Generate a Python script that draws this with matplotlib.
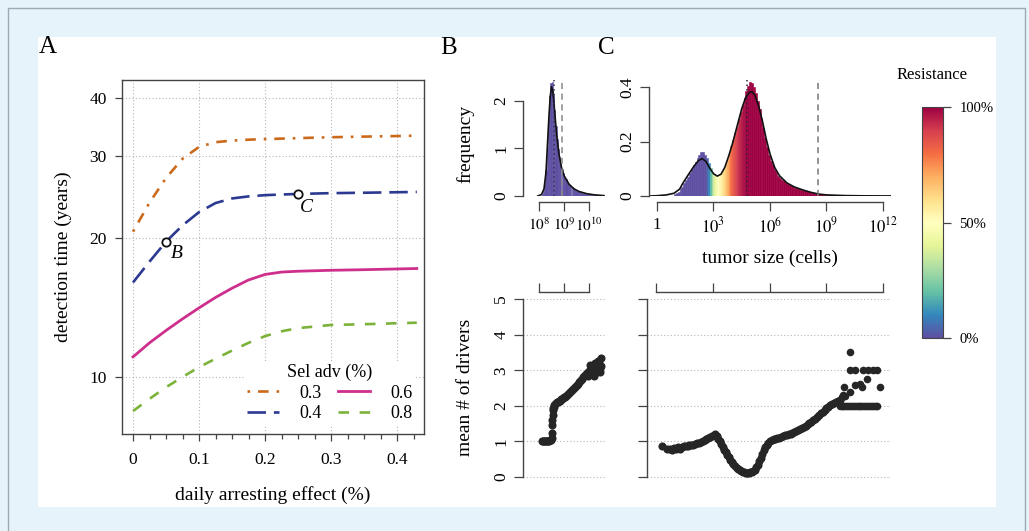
import numpy as np
import matplotlib
matplotlib.use('Agg')
import matplotlib.pyplot as plt
from matplotlib.patches import Rectangle
from matplotlib.colors import Normalize
import matplotlib.ticker as mticker

plt.rcParams['font.family'] = ['Liberation Serif', 'DejaVu Serif']
plt.rcParams['mathtext.fontset'] = 'stix'

# ---------------- data ----------------
# Panel A: detection time (years) vs daily arresting effect (%)
arrest = [0, 0.025, 0.05, 0.075, 0.1, 0.125, 0.15, 0.175, 0.2, 0.225, 0.25, 0.3, 0.35, 0.43]
det_03 = [20.6, 23.8, 26.9, 29.6, 31.4, 32.15, 32.4, 32.55, 32.65, 32.72, 32.8, 32.95, 33.05, 33.2]
det_04 = [16.0, 17.75, 19.6, 21.25, 22.7, 23.75, 24.3, 24.55, 24.7, 24.78, 24.85, 24.95, 25.0, 25.1]
det_06 = [11.05, 11.85, 12.6, 13.35, 14.1, 14.85, 15.55, 16.2, 16.65, 16.85, 16.92, 17.0, 17.05, 17.15]
det_08 = [8.44, 8.97, 9.5, 10.0, 10.5, 10.95, 11.4, 11.85, 12.25, 12.55, 12.75, 12.95, 13.0, 13.1]
sel_labels = ['0.3', '0.4', '0.6', '0.8']
point_B = (0.05, 19.6)
point_C = (0.25, 24.85)

# Panel B (top): histogram of log10 tumor size at detection
b_bins = [8.10, 8.15, 8.20, 8.25, 8.30, 8.35, 8.40, 8.45, 8.50, 8.55,
          8.60, 8.65, 8.70, 8.75, 8.80, 8.85, 8.90, 8.95, 9.00, 9.05,
          9.10, 9.15, 9.20, 9.25, 9.30, 9.35, 9.40, 9.45, 9.50, 9.55,
          9.60, 9.65, 9.70, 9.75, 9.80, 9.85, 9.90, 9.95, 10.00, 10.05,
          10.10, 10.15, 10.20, 10.25, 10.30, 10.35, 10.40, 10.45, 10.50, 10.55]
b_hist = [0.04, 0.10, 0.25, 0.55, 1.00, 1.60, 2.10, 2.38, 2.40, 2.15,
          1.80, 1.48, 1.20, 0.98, 0.82, 0.68, 0.57, 0.48, 0.41, 0.35,
          0.30, 0.26, 0.23, 0.20, 0.18, 0.16, 0.14, 0.125, 0.11, 0.10,
          0.09, 0.08, 0.07, 0.063, 0.056, 0.05, 0.045, 0.04, 0.035, 0.031,
          0.028, 0.025, 0.022, 0.02, 0.018, 0.016, 0.014, 0.012, 0.01, 0.008]
b_dens_x = [7.95, 8.1, 8.2, 8.28, 8.34, 8.4, 8.45, 8.5, 8.55, 8.6, 8.7, 8.8, 8.9, 9.0,
            9.2, 9.4, 9.6, 9.9, 10.2, 10.6]
b_dens_y = [0.0, 0.03, 0.15, 0.5, 1.1, 1.7, 2.1, 2.3, 2.22, 1.95, 1.32, 0.88, 0.6, 0.43,
            0.25, 0.15, 0.095, 0.05, 0.025, 0.008]
b_vline_dot = 8.61
b_vline_dash = 8.93

# Panel C (top): histogram of log10 tumor size, coloured by resistance
c_bin_width = 0.1
c_bins = list(np.round(np.arange(0.9, 10.95, 0.1), 2))
c_hist = [0.006, 0.010, 0.016, 0.024, 0.034, 0.046, 0.058, 0.070, 0.084, 0.098,
          0.112, 0.125, 0.138, 0.150, 0.160, 0.162, 0.152, 0.138, 0.120, 0.102, 0.088,
          0.078, 0.073, 0.074, 0.079, 0.088, 0.100, 0.116, 0.136, 0.158, 0.182,
          0.206, 0.230, 0.255, 0.282, 0.308, 0.334, 0.360, 0.385, 0.402, 0.418,
          0.415, 0.400, 0.378, 0.350, 0.318, 0.285, 0.248, 0.212, 0.180, 0.152,
          0.130, 0.112, 0.097, 0.085, 0.075, 0.067, 0.060, 0.054, 0.049, 0.045,
          0.041, 0.037, 0.034, 0.031, 0.028, 0.025, 0.023, 0.021, 0.019, 0.017,
          0.015, 0.013, 0.012, 0.010, 0.009, 0.008, 0.007, 0.006, 0.0055, 0.005,
          0.0045, 0.004, 0.0036, 0.0032, 0.0029, 0.0026, 0.0023, 0.0021, 0.0019, 0.0017,
          0.0015, 0.0013, 0.0012, 0.0011, 0.0010, 0.0009, 0.0008, 0.0007, 0.0006, 0.0005]
c_resist = ([0.0] * 17 +
            [0.03, 0.10, 0.20, 0.30, 0.38, 0.44, 0.49, 0.53, 0.57, 0.61, 0.66,
             0.71, 0.76, 0.80, 0.84, 0.87, 0.90, 0.93, 0.95, 0.97, 0.99] +
            [1.0] * 63)
c_dens_x = [-0.4, 0.0, 0.5, 0.9, 1.2, 1.4, 1.7, 1.95, 2.2, 2.4, 2.6, 2.8, 3.0, 3.2, 3.4,
            3.6, 3.8, 4.0, 4.25, 4.5, 4.7, 4.9, 5.05, 5.2, 5.4, 5.6, 5.8, 6.0, 6.25,
            6.5, 6.9, 7.3, 7.8, 8.2, 8.6, 9.0, 10.0, 11.0, 12.4]
c_dens_y = [0.0, 0.001, 0.004, 0.01, 0.025, 0.05, 0.082, 0.108, 0.13, 0.137, 0.127,
            0.102, 0.082, 0.073, 0.08, 0.105, 0.145, 0.19, 0.255, 0.32, 0.36, 0.38,
            0.383, 0.37, 0.33, 0.275, 0.21, 0.155, 0.105, 0.075, 0.048, 0.033, 0.021,
            0.013, 0.007, 0.004, 0.0015, 0.0006, 0.0002]
c_vline_dot = 4.78
c_vline_dash = 8.55

# Panel B (bottom): mean number of drivers vs log10 size
bd_x = [8.12, 8.16, 8.20, 8.24, 8.28, 8.32, 8.36, 8.40, 8.44, 8.48, 8.51, 8.52, 8.53,
        8.535, 8.54, 8.55, 8.56, 8.58, 8.60, 8.64, 8.68, 8.72, 8.76, 8.80, 8.84, 8.88,
        8.92, 8.96, 9.00, 9.04, 9.08, 9.12, 9.16, 9.20, 9.24, 9.28, 9.32, 9.36, 9.40,
        9.44, 9.48, 9.52, 9.56, 9.60, 9.64, 9.68, 9.72, 9.76, 9.80, 9.84, 9.88, 9.92,
        9.96, 10.00, 10.04, 10.08, 10.12, 10.16, 10.20, 10.24, 10.28, 10.32, 10.36,
        10.40, 10.44, 10.48, 10.05, 10.15, 10.25, 10.35, 10.45, 10.48, 10.20, 10.30,
        10.40, 9.95, 10.10]
bd_y = [1.0, 1.0, 1.0, 1.0, 1.0, 1.0, 1.02, 1.0, 1.03, 1.05, 1.1, 1.25, 1.45,
        1.6, 1.75, 1.88, 1.95, 1.98, 2.02, 2.06, 2.08, 2.1, 2.12, 2.14, 2.15, 2.18,
        2.2, 2.22, 2.24, 2.26, 2.28, 2.3, 2.33, 2.36, 2.39, 2.42, 2.45, 2.47, 2.5,
        2.53, 2.56, 2.59, 2.62, 2.66, 2.7, 2.73, 2.76, 2.8, 2.83, 2.87, 2.9, 2.93,
        2.96, 2.99, 3.02, 3.0, 3.05, 3.1, 3.0, 3.08, 3.15, 2.95, 3.1, 3.2, 3.05,
        3.12, 3.15, 2.9, 3.2, 3.25, 2.95, 3.34, 2.85, 3.05, 3.0, 2.85, 2.95]

# Panel C (bottom)
cd_x = [0.30, 0.55, 0.70, 0.80, 0.95, 1.05, 1.15, 1.25, 1.35, 1.45, 1.55, 1.65, 1.75,
        1.85, 1.95, 2.05, 2.15, 2.25, 2.35, 2.45, 2.55, 2.65, 2.75, 2.85, 2.95, 3.05,
        3.12, 3.20, 3.28, 3.36, 3.44, 3.52, 3.60, 3.68, 3.76, 3.84, 3.92, 4.00, 4.08,
        4.16, 4.24, 4.32, 4.40, 4.48, 4.56, 4.64, 4.72, 4.80, 4.88, 4.96, 5.04, 5.12,
        5.20, 5.28, 5.36, 5.44, 5.52, 5.60, 5.68, 5.76, 5.84, 5.92, 6.00, 6.10, 6.20,
        6.30, 6.40, 6.50, 6.60, 6.70, 6.80, 6.90, 7.00, 7.10, 7.20, 7.30, 7.40, 7.50,
        7.60, 7.70, 7.80, 7.90, 8.00, 8.10, 8.20, 8.30, 8.40, 8.50, 8.60, 8.70, 8.80,
        8.90, 9.00, 9.10, 9.20, 9.30, 9.40, 9.50, 9.60, 9.70]
cd_y = [0.87, 0.80, 0.78, 0.77, 0.82, 0.80, 0.84, 0.78, 0.85, 0.86, 0.86, 0.88, 0.89,
        0.90, 0.91, 0.93, 0.95, 0.97, 0.99, 1.01, 1.04, 1.07, 1.10, 1.13, 1.16, 1.19,
        1.22, 1.15, 1.08, 1.01, 0.93, 0.85, 0.77, 0.69, 0.62, 0.55, 0.48, 0.42, 0.36,
        0.31, 0.26, 0.22, 0.19, 0.16, 0.14, 0.13, 0.12, 0.12, 0.12, 0.13, 0.14, 0.17,
        0.21, 0.27, 0.35, 0.44, 0.54, 0.65, 0.75, 0.84, 0.91, 0.96, 1.00, 1.03, 1.06,
        1.08, 1.10, 1.11, 1.13, 1.15, 1.17, 1.19, 1.21, 1.22, 1.24, 1.26, 1.28, 1.31,
        1.34, 1.37, 1.40, 1.44, 1.48, 1.52, 1.56, 1.60, 1.64, 1.69, 1.74, 1.79, 1.84,
        1.89, 1.94, 1.98, 2.02, 2.06, 2.09, 2.12, 2.14, 2.17]
cd2_x = [9.7, 9.8, 9.9, 10.0, 10.1, 10.2, 10.3, 10.4, 10.5, 10.6, 10.7, 10.8, 10.9, 11.0,
         11.1, 11.2, 11.3, 11.4, 11.5, 11.6, 11.7,
         10.27, 10.5, 10.95, 11.2, 11.45, 11.7,
         10.27, 9.95, 10.27, 10.53, 10.8, 11.15, 10.89, 11.86, 9.8, 9.9, 10.0]
cd2_y = [2.0] * 21 + [3.0] * 6 + [3.5, 2.53, 2.39, 2.58, 2.62, 2.76, 2.53, 2.53, 2.25, 2.3, 2.28]

# ---------------- figure ----------------
W, H = 1029, 531
fig = plt.figure(figsize=(W / 100, H / 100), dpi=100)
fig.patch.set_facecolor('#e6f3fa')
PX = 0.72  # points per pixel


def add_ax(left, top, right, bottom):
    return fig.add_axes([left / W, 1 - bottom / H, (right - left) / W, (bottom - top) / H])


fig.patches.append(Rectangle((8 / W, -0.1), (1025 - 8) / W, 1 - 8 / H + 0.1,
                             transform=fig.transFigure, fill=False,
                             edgecolor='#9eaab3', lw=1.0, zorder=-20))
fig.patches.append(Rectangle((38 / W, 1 - 507 / H), (996 - 38) / W, (507 - 37) / H,
                             transform=fig.transFigure, facecolor='white',
                             edgecolor='none', zorder=-10))

axcol = '#444444'
gridcol = '#b5b5b5'
LAB = 14
TICK = 12.5

# ---------- Panel A ----------
axA = add_ax(122, 80, 424, 434)
axA.set_facecolor('none')
axA.set_yscale('log')
axA.set_xlim(-0.0167, 0.4409)
axA.set_ylim(7.53, 43.8)
axA.set_yticks([10, 20, 30, 40], labels=['10', '20', '30', '40'])
axA.yaxis.set_minor_locator(mticker.NullLocator())
axA.set_xticks([0, 0.1, 0.2, 0.3, 0.4], labels=['0', '0.1', '0.2', '0.3', '0.4'])
axA.xaxis.set_minor_locator(mticker.MultipleLocator(0.025))
axA.grid(True, which='major', linestyle=(0, (1, 2)), color=gridcol, lw=0.8)
axA.set_axisbelow(True)
for s in axA.spines.values():
    s.set_color(axcol)
    s.set_linewidth(1.0)
axA.tick_params(axis='both', which='major', length=7 * PX, width=0.9, color=axcol,
                labelsize=TICK)
axA.tick_params(axis='x', which='minor', length=5 * PX, width=0.9, color=axcol)
axA.tick_params(axis='x', which='major', pad=8)
axA.tick_params(axis='y', which='major', pad=6)

lA1, = axA.plot(arrest, det_03, color='#cc6a1c', lw=1.9, linestyle=(0, (1, 3, 4, 3)),
                label=sel_labels[0])
lA2, = axA.plot(arrest, det_04, color='#2b3990', lw=1.9, linestyle=(0, (7, 3)),
                label=sel_labels[1])
lA3, = axA.plot(arrest, det_06, color='#cf2f8c', lw=2.0, linestyle='-',
                label=sel_labels[2])
lA4, = axA.plot(arrest, det_08, color='#7bb33a', lw=1.9, linestyle=(0, (4, 4)),
                label=sel_labels[3])
for (px_, py_), lab, off in [(point_B, 'B', (8, -8.5)), (point_C, 'C', (6, -10))]:
    axA.plot([px_], [py_], 'o', ms=6, mfc='white', mec='#111111', mew=1.3, zorder=5)
    axA.annotate(lab, xy=(px_, py_), xytext=off, textcoords='offset points',
                 fontsize=14, fontstyle='italic', ha='center', va='center')
leg = axA.legend(handles=[lA1, lA2, lA3, lA4], ncol=2, title='Sel adv (%)',
                 loc='lower right', bbox_to_anchor=(1.0, 0.0), fontsize=13,
                 title_fontsize=13, handlelength=1.8, columnspacing=0.9,
                 handletextpad=1.1, labelspacing=0.2, borderpad=0.15,
                 frameon=True, facecolor='white', edgecolor='none', framealpha=1,
                 fancybox=False)
axA.set_xlabel('daily arresting effect (%)', fontsize=LAB)
axA.xaxis.set_label_coords(0.5, (434 - 495) / 354)
axA.xaxis.label.set_va('center')
axA.set_ylabel('detection time (years)', fontsize=LAB)
axA.yaxis.set_label_coords((63 - 122) / 302, 0.5)
axA.yaxis.label.set_va('center')

fig.text(48 / W, 1 - 47 / H, 'A', fontsize=18, ha='center', va='center')
fig.text(449 / W, 1 - 48 / H, 'B', fontsize=18, ha='center', va='center')
fig.text(606 / W, 1 - 48 / H, 'C', fontsize=18, ha='center', va='center')

cmap = plt.get_cmap('Spectral_r')


def style_r(ax, left_bounds, x_bounds, x_side, left_out, x_out):
    ax.set_facecolor('none')
    other = 'top' if x_side == 'bottom' else 'bottom'
    for s in ['right', other]:
        ax.spines[s].set_visible(False)
    ax.spines['left'].set_bounds(*left_bounds)
    ax.spines['left'].set_position(('outward', left_out * PX))
    ax.spines[x_side].set_bounds(*x_bounds)
    ax.spines[x_side].set_position(('outward', x_out * PX))
    for s in ['left', x_side]:
        ax.spines[s].set_color(axcol)
        ax.spines[s].set_linewidth(1.0)
    ax.tick_params(axis='both', length=9 * PX, width=0.9, color=axcol, labelsize=TICK)
    if x_side == 'top':
        ax.xaxis.tick_top()


def pow_fmt(v, pos):
    v = int(round(v))
    return '1' if v == 0 else r'$10^{%d}$' % v


# ---------- Panel B top ----------
axBt = add_ax(530, 80, 607, 196)
axBt.set_xlim(7.64, 10.72)
axBt.set_ylim(0, 2.442)
bcol = cmap(0.0)
axBt.bar(b_bins, b_hist, width=0.05, align='edge', color=bcol, edgecolor=bcol,
         linewidth=0.4)
axBt.plot(b_dens_x, b_dens_y, color='#111111', lw=1.2)
axBt.axvline(b_vline_dot, color='#333355', lw=1.1, linestyle=(0, (1, 2)))
axBt.axvline(b_vline_dash, color='#888888', lw=1.1, linestyle=(0, (4, 3)))
style_r(axBt, (0, 2), (8, 10), 'bottom', 7, 6)
axBt.set_yticks([0, 1, 2])
axBt.set_yticklabels(['0', '1', '2'], rotation=90, va='center')
axBt.set_xticks([8, 9, 10])
axBt.xaxis.set_major_formatter(mticker.FuncFormatter(pow_fmt))
axBt.tick_params(axis='x', labelsize=11, pad=4)
axBt.set_ylabel('frequency', fontsize=LAB)
axBt.yaxis.set_label_coords((465 - 530) / 77, 0.45)
axBt.yaxis.label.set_va('center')

# ---------- Panel C top ----------
axCt = add_ax(649, 80, 891, 196)
axCt.set_xlim(-0.425, 12.43)
axCt.set_ylim(0, 0.4257)
ccols = [cmap(r) for r in c_resist]
axCt.bar(c_bins, c_hist, width=c_bin_width, align='edge',
         color=ccols, edgecolor=ccols, linewidth=0.4)
axCt.plot(c_dens_x, c_dens_y, color='#111111', lw=1.2)
axCt.axvline(c_vline_dot, color='#3a2030', lw=1.1, linestyle=(0, (1, 2)))
axCt.axvline(c_vline_dash, color='#777777', lw=1.1, linestyle=(0, (4, 3)))
style_r(axCt, (0, 0.4), (0, 12), 'bottom', 0, 6)
axCt.set_yticks([0, 0.2, 0.4])
axCt.set_yticklabels(['0', '0.2', '0.4'], rotation=90, va='center')
axCt.set_xticks([0, 3, 6, 9, 12])
axCt.xaxis.set_major_formatter(mticker.FuncFormatter(pow_fmt))
axCt.tick_params(axis='x', labelsize=12, pad=4)
axCt.set_xlabel('tumor size (cells)', fontsize=LAB)
axCt.xaxis.set_label_coords((770 - 649) / 242, (196 - 258) / 116)
axCt.xaxis.label.set_va('center')

# ---------- Panel B bottom ----------
axBb = add_ax(523, 292, 606, 481)
axBb.set_xlim(7.36, 10.68)
axBb.set_ylim(-0.112, 5.2)
axBb.grid(True, axis='y', linestyle=(0, (1, 2)), color=gridcol, lw=0.8)
axBb.set_axisbelow(True)
axBb.scatter(bd_x, bd_y, s=34, color='#262626', linewidths=0, clip_on=False)
style_r(axBb, (0, 5), (8, 10), 'top', 0, 0)
axBb.set_yticks([0, 1, 2, 3, 4, 5])
axBb.set_yticklabels(['0', '1', '2', '3', '4', '5'], rotation=90, va='center')
axBb.set_xticks([8, 9, 10])
axBb.set_xticklabels([])
axBb.set_ylabel('mean # of drivers', fontsize=LAB)
axBb.yaxis.set_label_coords((465 - 523) / 83, (481 - 387) / 189)
axBb.yaxis.label.set_va('center')

# ---------- Panel C bottom ----------
axCb = add_ax(647, 292, 891, 481)
axCb.set_xlim(-0.5, 12.42)
axCb.set_ylim(-0.112, 5.2)
axCb.grid(True, axis='y', linestyle=(0, (1, 2)), color=gridcol, lw=0.8)
axCb.set_axisbelow(True)
axCb.scatter(cd_x, cd_y, s=34, color='#262626', linewidths=0, clip_on=False)
axCb.scatter(cd2_x, cd2_y, s=30, color='#262626', linewidths=0, clip_on=False)
style_r(axCb, (0, 5), (0, 12), 'top', 0, 0)
axCb.set_yticks([0, 1, 2, 3, 4, 5])
axCb.set_yticklabels([])
axCb.set_xticks([0, 3, 6, 9, 12])
axCb.set_xticklabels([])

# ---------- colour bar ----------
cax = add_ax(922, 107, 943, 338)
sm = matplotlib.cm.ScalarMappable(norm=Normalize(0, 1), cmap=cmap)
cb = fig.colorbar(sm, cax=cax, ticks=[0, 0.5, 1])
cb.ax.set_yticklabels(['0%', '50%', '100%'])
cb.ax.tick_params(length=8 * PX, width=0.9, color=axcol, labelsize=10.5, pad=6)
cb.outline.set_linewidth(0.8)
cb.outline.set_edgecolor(axcol)
fig.text(932 / W, 1 - 75 / H, 'Resistance', fontsize=12, ha='center', va='center')

fig.savefig('out.png', dpi=100, facecolor=fig.get_facecolor())
